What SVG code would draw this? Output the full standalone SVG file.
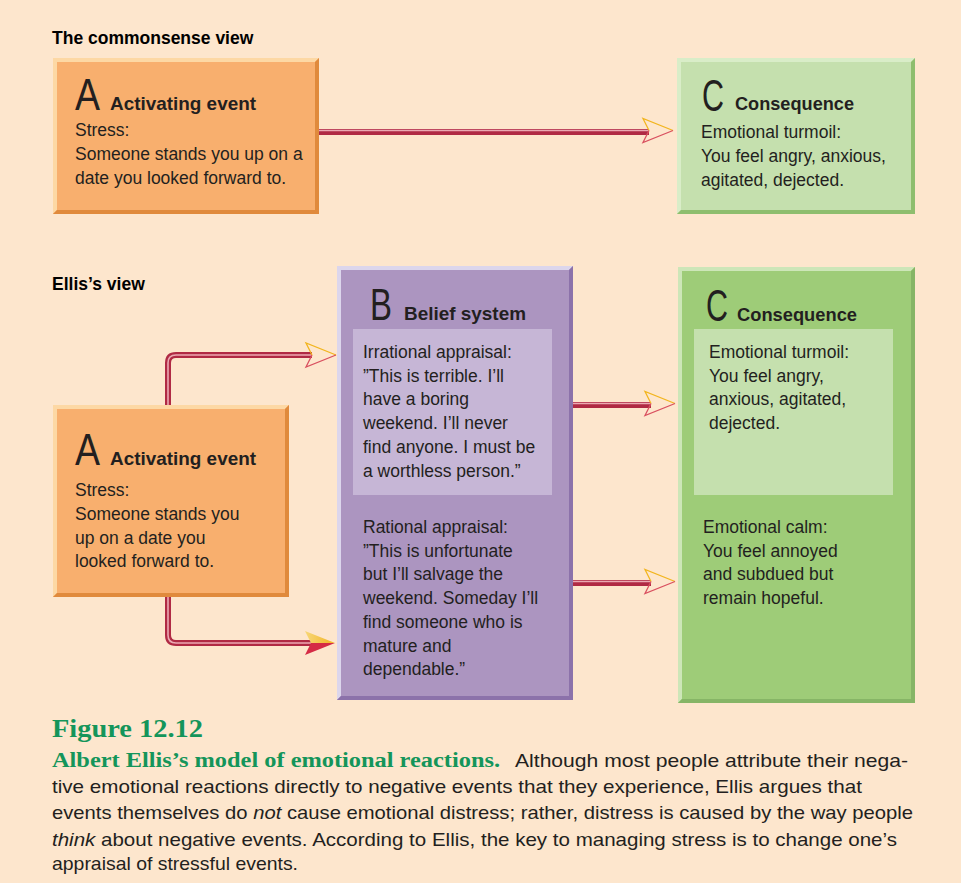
<svg xmlns="http://www.w3.org/2000/svg" width="961" height="883" viewBox="0 0 961 883">
  <style>
    .t { font-family: "Liberation Sans", Arial, sans-serif; fill: #231F20; font-size: 17.5px; }
    .big { font-family: "Liberation Sans", Arial, sans-serif; fill: #231F20; font-size: 44px; }
    .hd { font-family: "Liberation Sans", Arial, sans-serif; fill: #231F20; font-size: 18.5px; font-weight: bold; }
    .sec { font-family: "Liberation Sans", Arial, sans-serif; fill: #000; font-size: 17.5px; font-weight: bold; }
    .cap { font-family: "Liberation Sans", Arial, sans-serif; fill: #231F20; font-size: 18.5px; }
    .capg { font-family: "Liberation Serif", "Times New Roman", serif; fill: #14955A; font-weight: bold; }
    .pipe { fill: none; stroke: #B02A44; stroke-width: 6; }
    .hl { fill: none; stroke: #EBA9B2; stroke-width: 1.6; }
  </style>
  <defs>
    <marker id="arrOpen" markerUnits="userSpaceOnUse" markerWidth="40" markerHeight="30" viewBox="-2 -15 40 30" refX="6" refY="0" orient="auto" overflow="visible">
      <path d="M6,0 L0,-12 L30,0" fill="none" stroke="#F2B51E" stroke-width="1.3" stroke-linejoin="miter"/>
      <path d="M30,0 L0,12 L6,0" fill="none" stroke="#D9505F" stroke-width="1.3" stroke-linejoin="miter"/>
    </marker>
    <linearGradient id="gold" x1="0" y1="0" x2="1" y2="0">
      <stop offset="0" stop-color="#F7D778"/>
      <stop offset="1" stop-color="#F2B320"/>
    </linearGradient>
    <marker id="arrSolid" markerUnits="userSpaceOnUse" markerWidth="40" markerHeight="30" viewBox="-2 -15 40 30" refX="6" refY="0" orient="auto" overflow="visible">
      <path d="M6,0 L0,-12 L30,0 Z" fill="url(#gold)"/>
      <path d="M30,0 L0,12 L6,0 Z" fill="#D52B45"/>
    </marker>
  </defs>

  <!-- page -->
  <rect x="0" y="0" width="961" height="883" fill="#FDE6CD"/>

  <!-- section titles -->
  <text class="sec" x="52" y="44">The commonsense view</text>
  <text class="sec" x="52" y="290">Ellis’s view</text>

  <!-- connectors -->
  <g id="connectors">
    <path class="pipe" d="M319,132 H649"/>
    <path class="hl" d="M319,130.5 H649" marker-end="url(#arrOpen)"/>

    <path class="pipe" d="M168,405 V363 Q168,355 176,355 H312"/>
    <path class="hl" d="M168,405 V363 Q168,355 176,355 H312" marker-end="url(#arrOpen)"/>

    <path class="pipe" d="M168,597 V635 Q168,643 176,643 H311"/>
    <path class="hl" d="M168,597 V635 Q168,643 176,643 H311" marker-end="url(#arrSolid)"/>

    <path class="pipe" d="M573,405 H651"/>
    <path class="hl" d="M573,403.5 H651" marker-end="url(#arrOpen)"/>

    <path class="pipe" d="M573,583 H651"/>
    <path class="hl" d="M573,581.5 H651" marker-end="url(#arrOpen)"/>
  </g>

  <!-- commonsense: activating event -->
  <g id="nodeA1">
    <rect x="53" y="58" width="266" height="156" fill="#F8AF6E"/>
    <polygon points="53,58 319,58 315,62 57,62 57,210 53,214" fill="#FDD8A4"/>
    <polygon points="319,58 319,214 53,214 57,210 315,210 315,62" fill="#E08A3C"/>
    <text class="big" x="75" y="110" textLength="25" lengthAdjust="spacingAndGlyphs">A</text>
    <text class="hd" x="110" y="110" textLength="146" lengthAdjust="spacingAndGlyphs">Activating event</text>
    <text class="t" x="75" y="136">Stress:</text>
    <text class="t" x="75" y="160">Someone stands you up on a</text>
    <text class="t" x="75" y="184">date you looked forward to.</text>
  </g>

  <!-- commonsense: consequence -->
  <g id="nodeC1">
    <rect x="677" y="58" width="238" height="156" fill="#C5E0AE"/>
    <polygon points="677,58 915,58 911,62 681,62 681,210 677,214" fill="#D9EDC8"/>
    <polygon points="915,58 915,214 677,214 681,210 911,210 911,62" fill="#8EBE6E"/>
    <text class="big" x="702" y="111" textLength="22" lengthAdjust="spacingAndGlyphs">C</text>
    <text class="hd" x="735" y="110" textLength="119" lengthAdjust="spacingAndGlyphs">Consequence</text>
    <text class="t" x="701" y="138">Emotional turmoil:</text>
    <text class="t" x="701" y="162">You feel angry, anxious,</text>
    <text class="t" x="701" y="186">agitated, dejected.</text>
  </g>

  <!-- Ellis: activating event -->
  <g id="nodeA2">
    <rect x="53" y="405" width="236" height="192" fill="#F8AF6E"/>
    <polygon points="53,405 289,405 285,409 57,409 57,593 53,597" fill="#FDD8A4"/>
    <polygon points="289,405 289,597 53,597 57,593 285,593 285,409" fill="#E08A3C"/>
    <text class="big" x="75" y="465" textLength="25" lengthAdjust="spacingAndGlyphs">A</text>
    <text class="hd" x="110" y="465" textLength="146" lengthAdjust="spacingAndGlyphs">Activating event</text>
    <text class="t" x="75" y="496">Stress:</text>
    <text class="t" x="75" y="520">Someone stands you</text>
    <text class="t" x="75" y="544">up on a date you</text>
    <text class="t" x="75" y="567">looked forward to.</text>
  </g>

  <!-- Ellis: belief system -->
  <g id="nodeB">
    <rect x="337" y="266" width="236" height="434" fill="#AC95C0"/>
    <polygon points="337,266 573,266 569,270 341,270 341,696 337,700" fill="#DCD6EC"/>
    <polygon points="573,266 573,700 337,700 341,696 569,696 569,270" fill="#8C72AA"/>
    <rect x="353" y="329" width="199" height="166" fill="#C6B6D6"/>
    <text class="big" x="370" y="320" textLength="22" lengthAdjust="spacingAndGlyphs">B</text>
    <text class="hd" x="404" y="320" textLength="122" lengthAdjust="spacingAndGlyphs">Belief system</text>
    <text class="t" x="363" y="358">Irrational appraisal:</text>
    <text class="t" x="363" y="382">”This is terrible. I’ll</text>
    <text class="t" x="363" y="405">have a boring</text>
    <text class="t" x="363" y="429">weekend. I’ll never</text>
    <text class="t" x="363" y="453">find anyone. I must be</text>
    <text class="t" x="363" y="477">a worthless person.”</text>
    <text class="t" x="363" y="533">Rational appraisal:</text>
    <text class="t" x="363" y="557">”This is unfortunate</text>
    <text class="t" x="363" y="580">but I’ll salvage the</text>
    <text class="t" x="363" y="604">weekend. Someday I’ll</text>
    <text class="t" x="363" y="628">find someone who is</text>
    <text class="t" x="363" y="652">mature and</text>
    <text class="t" x="363" y="675">dependable.”</text>
  </g>

  <!-- Ellis: consequence -->
  <g id="nodeC2">
    <rect x="678" y="267" width="237" height="436" fill="#9ECC78"/>
    <polygon points="678,267 915,267 911,271 682,271 682,699 678,703" fill="#CDE6B8"/>
    <polygon points="915,267 915,703 678,703 682,699 911,699 911,271" fill="#86B566"/>
    <rect x="694" y="329" width="199" height="166" fill="#C5E0AE"/>
    <text class="big" x="706" y="321" textLength="22" lengthAdjust="spacingAndGlyphs">C</text>
    <text class="hd" x="737" y="321" textLength="120" lengthAdjust="spacingAndGlyphs">Consequence</text>
    <text class="t" x="709" y="358">Emotional turmoil:</text>
    <text class="t" x="709" y="382">You feel angry,</text>
    <text class="t" x="709" y="405">anxious, agitated,</text>
    <text class="t" x="709" y="429">dejected.</text>
    <text class="t" x="703" y="533">Emotional calm:</text>
    <text class="t" x="703" y="557">You feel annoyed</text>
    <text class="t" x="703" y="580">and subdued but</text>
    <text class="t" x="703" y="604">remain hopeful.</text>
  </g>

  <!-- caption -->
  <text class="capg" x="52" y="737" font-size="26" textLength="151" lengthAdjust="spacingAndGlyphs">Figure 12.12</text>
  <text class="capg" x="52" y="767" font-size="20" textLength="448" lengthAdjust="spacingAndGlyphs">Albert Ellis’s model of emotional reactions.</text>
  <text class="cap" x="515" y="767" textLength="393" lengthAdjust="spacingAndGlyphs">Although most people attribute their nega-</text>
  <text class="cap" x="52" y="793" textLength="810" lengthAdjust="spacingAndGlyphs">tive emotional reactions directly to negative events that they experience, Ellis argues that</text>
  <text class="cap" x="52" y="819" textLength="861" lengthAdjust="spacingAndGlyphs">events themselves do <tspan font-style="italic">not</tspan> cause emotional distress; rather, distress is caused by the way people</text>
  <text class="cap" x="52" y="846" textLength="845" lengthAdjust="spacingAndGlyphs"><tspan font-style="italic">think</tspan> about negative events. According to Ellis, the key to managing stress is to change one’s</text>
  <text class="cap" x="52" y="870" textLength="246" lengthAdjust="spacingAndGlyphs">appraisal of stressful events.</text>
</svg>
